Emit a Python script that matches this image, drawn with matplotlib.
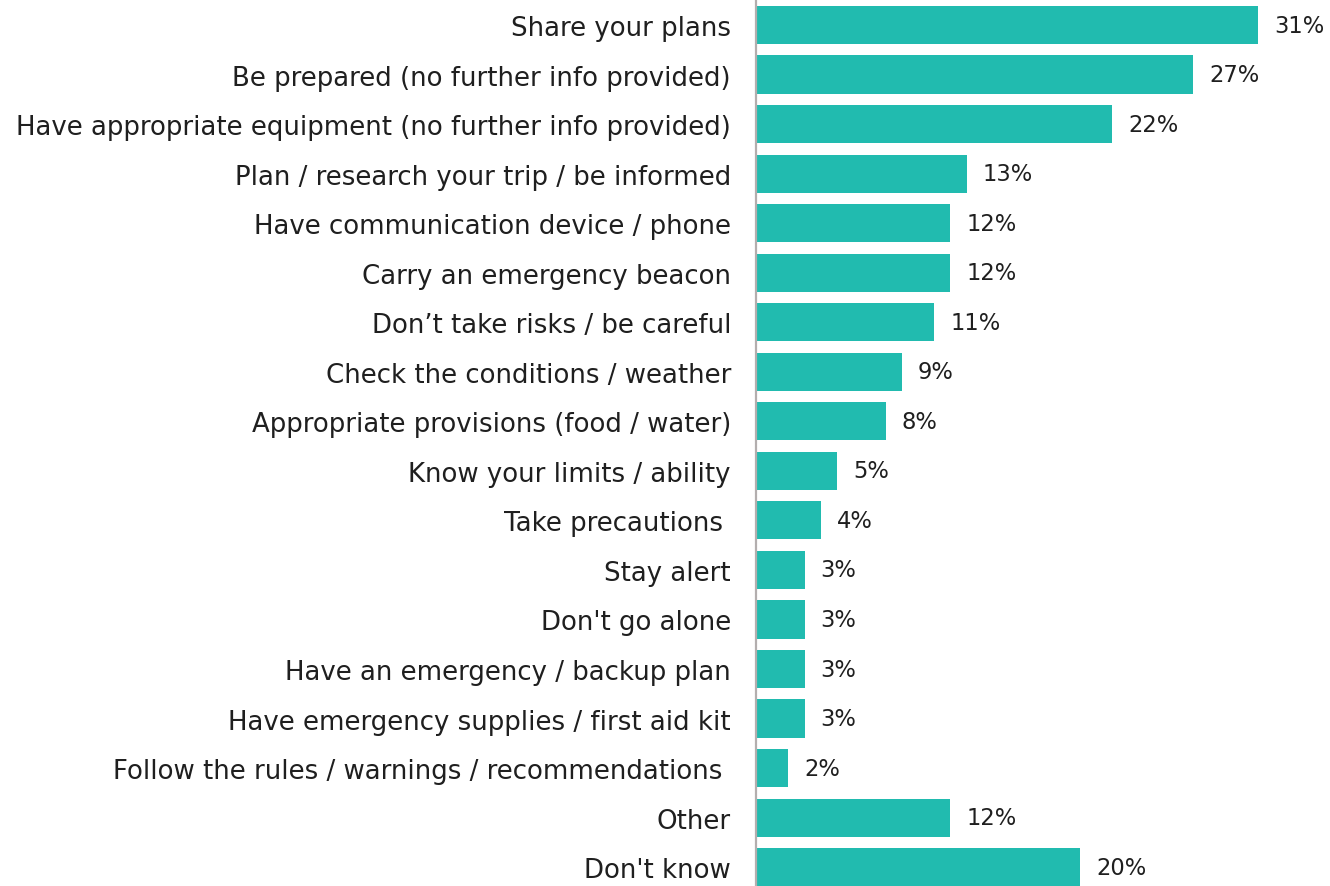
import matplotlib
matplotlib.use("Agg")
import matplotlib.pyplot as plt

categories = [
    "Share your plans",
    "Be prepared (no further info provided)",
    "Have appropriate equipment (no further info provided)",
    "Plan / research your trip / be informed",
    "Have communication device / phone",
    "Carry an emergency beacon",
    "Don\u2019t take risks / be careful",
    "Check the conditions / weather",
    "Appropriate provisions (food / water)",
    "Know your limits / ability",
    "Take precautions ",
    "Stay alert",
    "Don't go alone",
    "Have an emergency / backup plan",
    "Have emergency supplies / first aid kit",
    "Follow the rules / warnings / recommendations ",
    "Other",
    "Don't know",
]
values = [31, 27, 22, 13, 12, 12, 11, 9, 8, 5, 4, 3, 3, 3, 3, 2, 12, 20]

BAR_COLOR = "#21BBAF"
TEXT_COLOR = "#1f1f1f"
W, H = 1330, 887
fig = plt.figure(figsize=(W / 100, H / 100), dpi=100)
ax = fig.add_axes([756 / W, 0, (W - 756) / W, 1])

y = list(range(len(categories)))
ax.barh(y, values, height=0.77, color=BAR_COLOR)

ax.set_xlim(0, (W - 756) / 16.2)
ax.set_ylim(17.38, -0.525)

for yi, v in zip(y, values):
    ax.annotate(f"{v}%", xy=(v, yi), xytext=(11.5, 0), textcoords="offset points",
                va="center", ha="left", fontsize=16.3, color=TEXT_COLOR)

ax.set_yticks(y)
ax.set_yticklabels(categories, fontsize=18.7, color=TEXT_COLOR)
ax.tick_params(axis="y", length=0, pad=18)
ax.set_xticks([])

for side in ("top", "right", "bottom"):
    ax.spines[side].set_visible(False)
ax.spines["left"].set_color("#B3AEAE")
ax.spines["left"].set_linewidth(1.6)

fig.savefig("out.png", dpi=100)
